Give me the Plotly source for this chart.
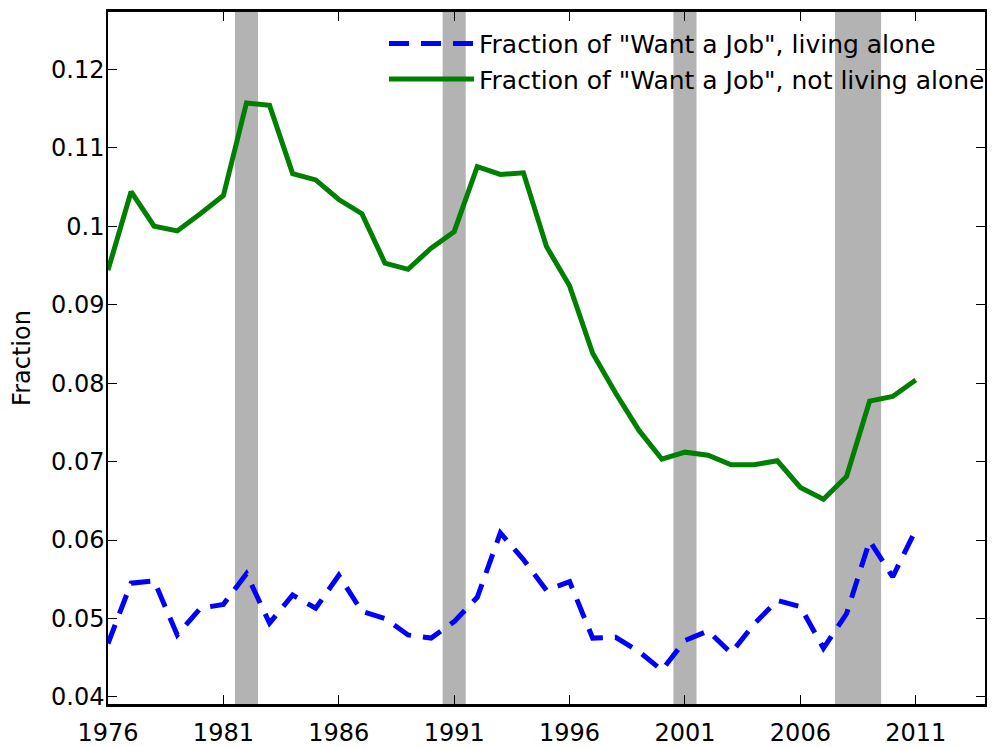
import plotly.graph_objects as go

years = list(range(1976, 2012))

not_alone = [0.0944, 0.1044, 0.1000, 0.0994, 0.1016, 0.1039, 0.1157, 0.1154, 0.1067, 0.1059,
             0.1034, 0.1016, 0.0953, 0.0945, 0.0972, 0.0993, 0.1076, 0.1066, 0.1068, 0.0974,
             0.0924, 0.0838, 0.0787, 0.0740, 0.0703, 0.0712, 0.0708, 0.0696, 0.0696, 0.0701,
             0.0667, 0.0652, 0.0681, 0.0777, 0.0783, 0.0804]

alone = [0.0468, 0.0545, 0.0548, 0.0479, 0.0513, 0.0518, 0.0557, 0.0494, 0.0530, 0.0513,
         0.0555, 0.0509, 0.0500, 0.0479, 0.0475, 0.0496, 0.0527, 0.0609, 0.0575, 0.0536,
         0.0547, 0.0475, 0.0476, 0.0458, 0.0434, 0.0472, 0.0484, 0.0456, 0.0493, 0.0523,
         0.0515, 0.0462, 0.0506, 0.0599, 0.0553, 0.0613]

recessions = [(1981.5, 1982.5), (1990.5, 1991.5), (2000.5, 2001.5), (2007.5, 2009.5)]

x_ticks = [1976, 1981, 1986, 1991, 1996, 2001, 2006, 2011]
y_ticks = [0.04, 0.05, 0.06, 0.07, 0.08, 0.09, 0.10, 0.11, 0.12]
y_tick_text = ["0.04", "0.05", "0.06", "0.07", "0.08", "0.09", "0.1", "0.11", "0.12"]

fig = go.Figure()
fig.add_trace(go.Scatter(x=years, y=alone, mode="lines",
                         name='Fraction of "Want a Job", living alone',
                         line=dict(color="#0000ff", width=5, dash="20px,12px")))
fig.add_trace(go.Scatter(x=years, y=not_alone, mode="lines",
                         name='Fraction of "Want a Job", not living alone',
                         line=dict(color="#008000", width=5)))

for a, b in recessions:
    fig.add_shape(type="rect", xref="x", yref="paper", x0=a, x1=b, y0=-0.004, y1=1,
                  fillcolor="#b3b3b3", line=dict(width=0), layer="below")

tickfont = dict(family="DejaVu Sans", size=24, color="#000000")
fig.update_xaxes(range=[1976, 2014], tickvals=x_ticks, ticktext=[str(t) for t in x_ticks],
                 ticks="inside", ticklen=9, tickwidth=1.3, tickcolor="#000000",
                 showline=True, linecolor="#000000", linewidth=2.5, mirror="ticks",
                 showgrid=False, zeroline=False, tickfont=tickfont, automargin=False,
                 ticklabelstandoff=5)
fig.update_yaxes(range=[0.0391, 0.1273], tickvals=y_ticks, ticktext=y_tick_text,
                 ticks="inside", ticklen=9, tickwidth=1.3, tickcolor="#000000",
                 showline=True, linecolor="#000000", linewidth=1.5, mirror="ticks",
                 showgrid=False, zeroline=False, tickfont=tickfont, automargin=False,
                 ticklabelstandoff=-3,
                 title=dict(text="Fraction", font=tickfont, standoff=21))

fig.update_layout(
    width=1000, height=739,
    margin=dict(l=100, r=23, t=4, b=43, autoexpand=False),
    plot_bgcolor="#ffffff", paper_bgcolor="#ffffff",
    legend=dict(x=0.3147, y=0.9874, xanchor="left", yanchor="top",
                bgcolor="rgba(0,0,0,0)", borderwidth=0, itemwidth=85,
                font=dict(family="DejaVu Sans", size=25, color="#000000"),
                tracegroupgap=0),
)
fig.write_html("out.html")
